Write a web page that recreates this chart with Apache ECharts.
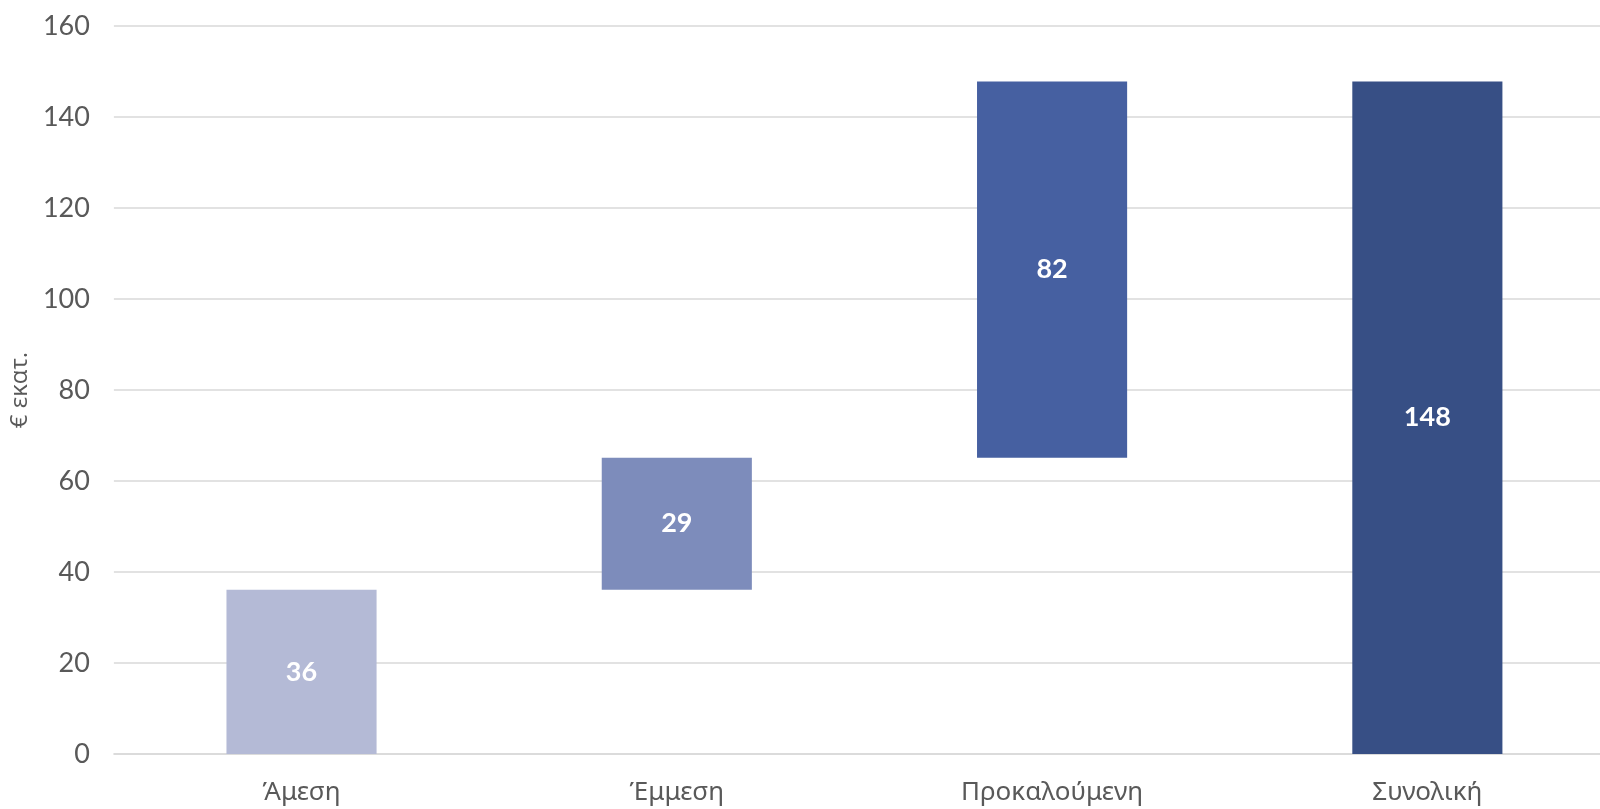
<!DOCTYPE html>
<html><head><meta charset="utf-8">
<script src="https://cdn.jsdelivr.net/npm/echarts@6/dist/echarts.min.js"></script>
<style>html,body{margin:0;padding:0;background:#fff;overflow:hidden;width:1600px;height:809px}#c{width:1616px;height:809px}</style>
</head><body><div id="c"></div>
<script>
const categories = ['Άμεση', 'Έμμεση', 'Προκαλούμενη', 'Συνολική'];
const bases = [0, 36.1, 65.1, 0];
const values = [36.1, 29.0, 82.7, 147.8];
const labels = ['36', '29', '82', '148'];
const colors = ['#B4BAD6', '#7D8CBB', '#4660A1', '#374F85'];
const yTicks = [0, 20, 40, 60, 80, 100, 120, 140, 160];

const chart = echarts.init(document.getElementById('c'));
chart.setOption({
  animation: false,
  grid: { left: 113, top: 26, right: 1, bottom: 55, containLabel: false },
  xAxis: {
    type: 'category', data: categories,
    axisLine: { lineStyle: { color: '#D9D9D9', width: 1.5 } },
    axisTick: { show: false },
    axisLabel: { color: '#595959', fontFamily: 'Noto Sans', fontSize: 26, margin: 26 }
  },
  yAxis: {
    type: 'value', min: yTicks[0], max: yTicks[yTicks.length - 1], interval: 20,
    name: '€ εκατ.', nameLocation: 'middle', nameGap: 77,
    nameTextStyle: { color: '#595959', fontFamily: 'Open Sans', fontSize: 24 },
    axisLine: { show: false }, axisTick: { show: false },
    splitLine: { lineStyle: { color: '#D9D9D9', width: 1.5 } },
    axisLabel: { color: '#595959', fontFamily: 'Lato', fontSize: 27, margin: 24 }
  },
  series: [
    { type: 'bar', stack: 'w', data: bases, itemStyle: { color: 'transparent' }, barWidth: '40%', silent: true },
    { type: 'bar', stack: 'w', barWidth: '40%',
      data: values.map((v, i) => ({ value: v, itemStyle: { color: colors[i] } })),
      label: { show: true, position: 'inside', color: '#fff', fontFamily: 'Lato', fontWeight: 'bold', fontSize: 27,
        formatter: p => labels[p.dataIndex] } }
  ]
});
</script></body></html>
